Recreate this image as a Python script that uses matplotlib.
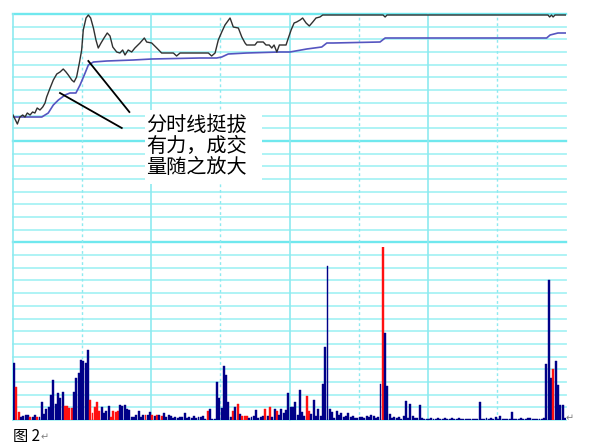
import numpy as np
import matplotlib.pyplot as plt
from matplotlib.patches import Rectangle

plt.rcParams['font.family'] = ['Noto Sans CJK SC', 'DejaVu Sans']

# minute price line (minutes after the open, price)
price_t = [0, 1.9, 3.0, 4.2, 5.2, 6.2, 7.4, 8.5, 9.5, 10.5,
           11.7, 12.9, 13.9, 14.6, 16.1, 17.5, 19.0, 20.4, 21.8, 23.0,
           24.0, 25.5, 26.5, 27.6, 28.8, 29.8, 30.5, 31.7, 32.7, 33.7,
           34.9, 36.0, 37.0, 38.2, 39.5, 40.9, 42.1, 43.3, 45.0, 46.4,
           47.6, 48.6, 50.0, 51.5, 52.9, 55.1, 57.0, 58.0, 60.2, 62.4,
           64.5, 69.6, 71.0, 72.5, 84.8, 86.2, 87.7, 89.1, 90.6, 92.0,
           94.2, 95.6, 97.8, 99.3, 100.7, 101.4, 105.0, 106.0, 108.6, 109.8,
           111.2, 112.3, 113.3, 114.5, 115.6, 118.5, 119.5, 120.7, 122.0, 123.1,
           124.6, 125.7, 127.2, 128.6, 130.1, 131.5, 133.2, 134.4, 160.6, 161.5,
           162.3, 232.2, 232.9, 233.7, 234.4, 235.2, 240]
price_v = [10.99, 10.90, 10.97, 10.99, 10.97, 11.01, 10.99, 11.02, 11.01, 11.06,
           11.04, 11.07, 11.11, 11.17, 11.26, 11.34, 11.40, 11.42, 11.45, 11.42,
           11.39, 11.34, 11.32, 11.37, 11.51, 11.64, 11.84, 11.96, 11.99, 11.96,
           11.86, 11.74, 11.66, 11.71, 11.76, 11.81, 11.78, 11.67, 11.62, 11.61,
           11.64, 11.59, 11.64, 11.62, 11.66, 11.71, 11.76, 11.72, 11.71, 11.66,
           11.61, 11.61, 11.58, 11.61, 11.61, 11.58, 11.61, 11.74, 11.82, 11.89,
           11.96, 11.87, 11.86, 11.77, 11.71, 11.69, 11.69, 11.72, 11.72, 11.69,
           11.69, 11.66, 11.69, 11.62, 11.69, 11.69, 11.76, 11.84, 11.91, 11.92,
           11.94, 11.96, 11.91, 11.88, 11.92, 11.96, 11.97, 11.99, 11.99, 11.97,
           11.99, 11.99, 11.97, 11.99, 11.97, 11.99, 11.99]

# average price line
avg_t = [0, 12.5, 15.3, 17.5, 19.7, 22.6, 24.7, 27.3, 29.1, 31.3, 32.7, 34.9,
         40.7, 52.2, 60.2, 81.2, 88.4, 90.6, 93.4, 101.4, 115.9, 120.2, 127.5,
         134.0, 136.2, 139.0, 159.3, 161.5, 164.9, 231.6, 233.1, 236.5, 240]
avg_v = [10.97, 10.97, 11.01, 11.09, 11.14, 11.19, 11.21, 11.21, 11.29, 11.41,
         11.49, 11.52, 11.53, 11.54, 11.55, 11.56, 11.56, 11.57, 11.60, 11.61,
         11.62, 11.62, 11.65, 11.67, 11.71, 11.71, 11.72, 11.76, 11.76, 11.76,
         11.79, 11.81, 11.81]

# volume per minute (240 minutes)
vol = [57, 33, 8, 3, 4, 5, 5, 3, 3, 5, 3, 3, 18, 6, 11, 13, 25, 40, 16, 27,
       22, 28, 14, 14, 12, 12, 28, 42, 47, 60, 59, 57, 70, 20, 7, 13, 18, 9, 13, 7,
       9, 14, 3, 9, 8, 9, 15, 14, 15, 11, 10, 3, 3, 5, 9, 3, 5, 5, 5, 8,
       5, 4, 5, 5, 4, 7, 3, 5, 4, 2, 3, 2, 3, 3, 7, 2, 3, 2, 4, 2,
       3,
       3, 4, 1, 9, 11, 1, 1, 38, 22, 12, 54, 45, 18, 3, 9, 13, 16, 6, 4, 4,
       4, 2, 3, 4, 10, 2, 3, 4, 11, 4, 13, 3, 11, 9, 5, 11, 7, 10, 27, 13,
       13, 18, 5, 30, 8, 4, 24, 9, 6, 20, 4, 11, 4, 36, 73, 154, 11, 8, 2, 9,
       5, 7, 3, 4, 7, 3, 4, 2, 2, 3, 3, 2, 4, 3, 5, 4, 2, 3, 36, 173,
       87, 34, 6, 2, 3, 2, 3,
       1, 4, 19, 2, 16, 4, 2, 2, 15, 2, 1, 1, 1, 2, 1, 1, 2, 1, 1, 2,
       1, 1, 2, 1, 1, 2, 1, 1, 1, 1, 1, 1, 1, 1, 18, 1, 1, 2, 1, 2,
       1, 3, 1, 4, 1, 1, 1, 1, 8, 1, 1, 1, 2, 1, 1, 2, 2, 1, 1, 1,
       1, 1, 2, 56, 140, 42, 51, 59, 35, 15, 15, 2]
# R = up minute (red), B = down minute (blue)
vol_dir = ("BRRBBBBRBB" "RBBBBBBBBB" "BBRRRRBBBB" "BBBRRRRRBB"
           "BBRRRRBBBB" "BBBBBBBRBB" "RBRBRBBBBB" "BBBBBBBBBBB"
           "BBBRBBBBBB" "BBBBRBRBRR" "RBBBBBBBRB" "RBBRBBBBBB"
           "BBBBBBRRBB" "BBBBBBBBBB" "BBBBBBBBBB" "BBBBBBBBBR"
           "BBBBBBB"
           + "B" * 66 + "R" + "B" * 5)

note_text = "分时线挺拔\n有力，成交\n量随之放大"
caption = "图 2"

W, H = 596, 443
fig = plt.figure(figsize=(W / 100, H / 100), dpi=100)
rect = [13 / W, 23 / H, 553 / W, 406 / H]

# background grid
ax_grid = fig.add_axes(rect)
ax_grid.set_xlim(0, 240)
ax_grid.set_ylim(0, 32)
for k in range(33):
    if k in (14, 22, 32):
        ax_grid.axhline(k, color='#70e8ee', lw=1.7, clip_on=False, zorder=1)
    else:
        ax_grid.axhline(k, color='#a8f2f4', lw=1.3, clip_on=False, zorder=1)
for m in range(0, 240, 30):
    if m % 60 == 0:
        ax_grid.axvline(m, color='#8eeaf0', lw=1.2, clip_on=False, zorder=1)
    else:
        ax_grid.axvline(m, color='#8eeaf0', lw=1.0, ls=(0, (2, 2)), zorder=1)
ax_grid.add_patch(Rectangle((57.3, 18.6), 50.8, 5.85, facecolor='white',
                            edgecolor='none', zorder=2))
ax_grid.axis('off')

# volume bars
ax_vol = fig.add_axes([13 / W, 23 / H, 553 / W, 173 / H])
colors = ['#ff1010' if d == 'R' else '#000088' for d in vol_dir]
ax_vol.bar(np.arange(len(vol)) + 0.5, vol, width=0.85, color=colors,
           edgecolor=colors, linewidth=0.3)
ax_vol.set_xlim(0, 240)
ax_vol.set_ylim(0, 173)
ax_vol.patch.set_alpha(0)
ax_vol.axis('off')

# price and average lines
ax_p = fig.add_axes(rect)
ax_p.plot(avg_t, avg_v, color='#5555c0', lw=1.2)
ax_p.plot(price_t, price_v, color='#303030', lw=1.0)
ax_p.plot([20.4, 47.2], [11.21, 10.86], color='black', lw=1.3)
ax_p.plot([32.7, 50.5], [11.53, 11.02], color='black', lw=1.3)
ax_p.set_xlim(0, 240)
ax_p.set_ylim(7.94, 12.00)
ax_p.patch.set_alpha(0)
ax_p.axis('off')

fig.text(146 / W, 1 - 115 / H, note_text, fontsize=14.5, va='top', ha='left',
         linespacing=1.0, color='black')
fig.text(13 / W, 1 - 436 / H, caption, fontsize=11, va='center', ha='left')
fig.text(41 / W, 1 - 437 / H, "↵", fontsize=7, va='center', ha='left',
         color='#808080', family='DejaVu Sans')
fig.text(566 / W, 1 - 418 / H, "↵", fontsize=7, va='center', ha='left',
         color='#808080', family='DejaVu Sans')

fig.savefig('out.png', dpi=100)
